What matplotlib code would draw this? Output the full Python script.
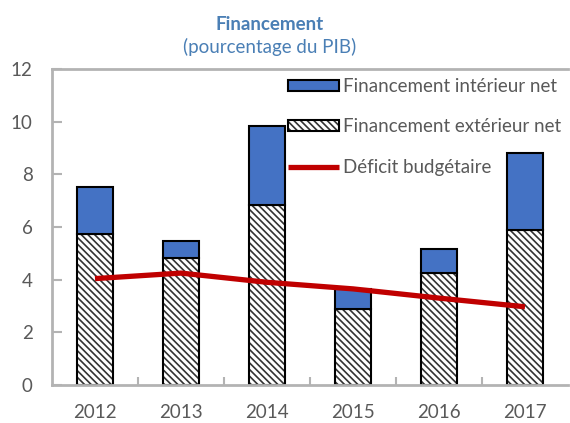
import matplotlib.pyplot as plt
import numpy as np
from matplotlib.legend_handler import HandlerTuple

plt.rcParams['font.family'] = ['Lato', 'DejaVu Sans']
plt.rcParams['hatch.linewidth'] = 1.2

# Données (pourcentage du PIB)
years = ["2012", "2013", "2014", "2015", "2016", "2017"]
exterieur = [5.75, 4.83, 6.85, 2.88, 4.25, 5.9]
interieur = [1.75, 0.65, 2.97, 0.78, 0.93, 2.9]
deficit = [4.04, 4.25, 3.9, 3.65, 3.3, 2.97]

grey_txt = "#595959"
spine_col = "#b3b3b3"
title_col = "#4a7fb5"

fig = plt.figure(figsize=(5.7, 4.23), dpi=100)
ax = fig.add_axes([52 / 570, 38 / 423, 516 / 570, 316 / 423])

x = np.arange(len(years))
w = 0.41
# hachures grises, contour noir par-dessus
b1 = ax.bar(x, exterieur, w, color="white", edgecolor="#333333", hatch="\\\\\\\\\\",
            linewidth=0, zorder=2)
b1o = ax.bar(x, exterieur, w, color="none", edgecolor="black", linewidth=1.5, zorder=2)
b2 = ax.bar(x, interieur, w, bottom=exterieur, color="#4472c4", edgecolor="black",
            linewidth=1.5, zorder=2)
l1, = ax.plot(x, deficit, color="#c00000", linewidth=3.8, solid_capstyle="butt", zorder=3)

ax.set_xlim(-0.5, 5.5)
ax.set_ylim(0, 12)
ax.set_yticks(range(0, 13, 2))
ax.set_xticks(x)
ax.set_xticklabels(years)
ax.set_xticks(np.arange(0.5, 5.0, 1.0), minor=True)

ax.tick_params(axis="y", direction="in", length=7, width=1.5, color=spine_col,
               labelsize=13.5, labelcolor=grey_txt, pad=14)
ax.tick_params(axis="x", which="major", length=0, labelsize=13.5,
               labelcolor=grey_txt, pad=14)
ax.tick_params(axis="x", which="minor", direction="in", length=6, width=1.5,
               color=spine_col)

for s in ["left", "bottom", "top"]:
    ax.spines[s].set_color(spine_col)
    ax.spines[s].set_linewidth(2)
ax.spines["right"].set_visible(False)

fig.text(270 / 570, 1 - 24 / 423, "Financement", ha="center", va="center",
         fontsize=13.5, fontweight="bold", color=title_col)
fig.text(270 / 570, 1 - 47 / 423, "(pourcentage du PIB)", ha="center", va="center",
         fontsize=13.5, color=title_col)

leg = ax.legend([b2, (b1, b1o), l1],
                ["Financement intérieur net", "Financement extérieur net", "Déficit budgétaire"],
                handler_map={tuple: HandlerTuple(ndivide=1, pad=0)},
                loc="upper left", bbox_to_anchor=(288 / 570, 1 - 78 / 423),
                bbox_transform=fig.transFigure, frameon=False, fontsize=13.5,
                handlelength=2.7, handleheight=0.5, labelspacing=1.25,
                handletextpad=0.25, borderaxespad=0, borderpad=0)
for t in leg.get_texts():
    t.set_color(grey_txt)

fig.savefig("out.png", dpi=100, facecolor="white")
